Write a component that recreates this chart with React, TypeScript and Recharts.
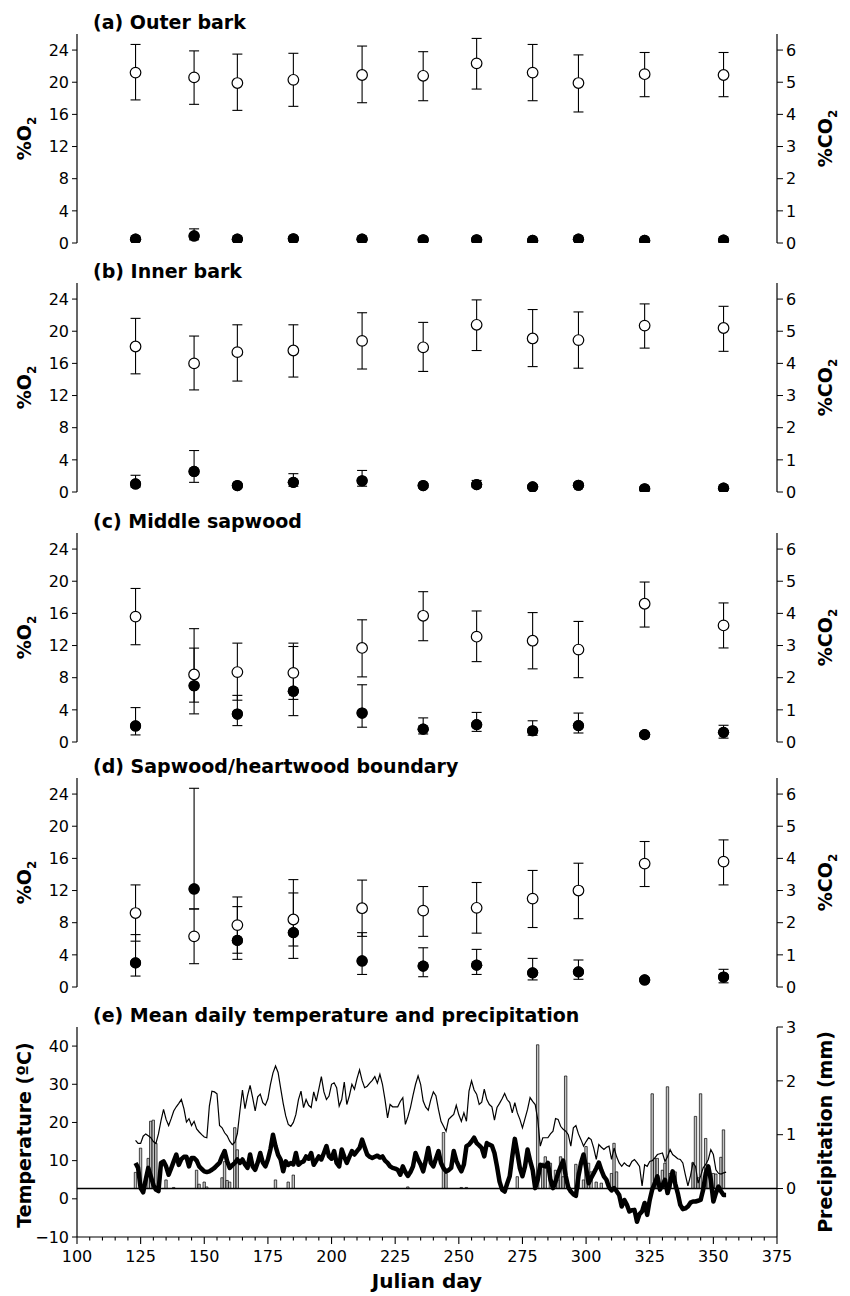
import React from "react";
import { ComposedChart, Scatter, ErrorBar, XAxis, YAxis, Line, Bar, ReferenceLine } from "recharts";

// sampling days (Julian day) for the gas panels
const sampleDays = [123, 146, 163, 185, 212, 236, 257, 279, 297, 323, 354];

// (a) outer bark
const outerO2 = [21.2, 20.6, 19.9, 20.3, 20.9, 20.8, 22.35, 21.2, 19.9, 21.0, 20.9];
const outerO2Err = [[3.4, 3.5], [3.35, 3.3], [3.4, 3.6], [3.3, 3.3], [3.45, 3.6], [3.1, 3.0], [3.2, 3.1], [3.5, 3.5], [3.6, 3.5], [2.8, 2.7], [2.7, 2.8]];
const outerCO2 = [0.12, 0.22, 0.12, 0.13, 0.12, 0.1, 0.1, 0.08, 0.12, 0.08, 0.09];
const outerCO2Err = [[0.04, 0.04], [0.12, 0.22], [0.04, 0.04], [0.04, 0.04], [0.04, 0.04], [0.03, 0.03], [0.03, 0.03], [0.03, 0.03], [0.04, 0.04], [0.03, 0.03], [0.03, 0.03]];

// (b) inner bark
const innerO2 = [18.1, 16.0, 17.4, 17.6, 18.8, 18.0, 20.8, 19.1, 18.9, 20.7, 20.4];
const innerO2Err = [[3.4, 3.5], [3.3, 3.4], [3.6, 3.4], [3.3, 3.2], [3.5, 3.5], [3.0, 3.1], [3.2, 3.1], [3.5, 3.6], [3.5, 3.5], [2.8, 2.7], [2.9, 2.7]];
const innerCO2 = [0.25, 0.64, 0.2, 0.3, 0.35, 0.2, 0.23, 0.16, 0.21, 0.1, 0.12];
const innerCO2Err = [[0.1, 0.27], [0.34, 0.65], [0.05, 0.05], [0.12, 0.27], [0.17, 0.32], [0.06, 0.06], [0.08, 0.13], [0.05, 0.05], [0.06, 0.06], [0.03, 0.03], [0.03, 0.03]];

// (c) middle sapwood
const middleO2 = [15.6, 8.4, 8.7, 8.6, 11.7, 15.7, 13.1, 12.6, 11.5, 17.2, 14.5];
const middleO2Err = [[3.5, 3.5], [4.9, 5.7], [3.5, 3.6], [3.3, 3.7], [3.6, 3.5], [3.1, 3.0], [3.1, 3.2], [3.5, 3.5], [3.5, 3.5], [2.9, 2.7], [2.8, 2.8]];
const middleCO2 = [0.5, 1.75, 0.87, 1.58, 0.9, 0.4, 0.54, 0.35, 0.51, 0.23, 0.3];
const middleCO2Err = [[0.28, 0.57], [0.51, 1.17], [0.36, 0.58], [0.76, 1.39], [0.44, 0.88], [0.15, 0.35], [0.21, 0.38], [0.14, 0.31], [0.23, 0.39], [0.05, 0.05], [0.18, 0.22]];

// (d) sapwood/heartwood boundary
const boundaryO2 = [9.2, 6.3, 7.7, 8.4, 9.8, 9.5, 9.85, 11.0, 12.0, 15.35, 15.6];
const boundaryO2Err = [[3.5, 3.5], [3.4, 3.4], [3.5, 3.5], [3.3, 3.3], [3.5, 3.5], [3.2, 3.0], [3.15, 3.15], [3.6, 3.5], [3.5, 3.4], [2.85, 2.75], [2.9, 2.7]];
const boundaryCO2 = [0.75, 3.05, 1.45, 1.69, 0.81, 0.65, 0.68, 0.44, 0.47, 0.22, 0.31];
const boundaryCO2Err = [[0.41, 0.88], [0.62, 3.13], [0.59, 1.05], [0.8, 1.65], [0.42, 0.88], [0.33, 0.57], [0.29, 0.49], [0.22, 0.45], [0.23, 0.37], [0.04, 0.04], [0.18, 0.24]];

// (e) daily weather, day 123 .. 355
const firstWeatherDay = 123;
const maxTemp = [
  15.3, 14.5, 14.5, 16.4, 17.0, 16.5, 16.0, 15.0, 14.5, 17.0,
  20.5, 23.4, 20.8, 19.2, 21.0, 23.0, 24.1, 25.0, 26.0, 23.6,
  20.1, 21.0, 19.2, 20.3, 18.3, 17.5, 16.8, 16.2, 16.0, 24.3,
  28.2, 28.0, 27.5, 19.2, 18.6, 17.3, 16.5, 15.1, 14.2, 14.8,
  17.1, 23.0, 28.5, 23.6, 27.0, 29.7, 26.5, 23.0, 26.7, 27.4,
  25.2, 24.5, 26.2, 30.0, 33.0, 34.8, 33.1, 29.0, 25.0, 21.7,
  19.5, 19.0, 20.0, 22.1, 26.0, 28.2, 23.9, 26.0, 24.5, 23.9,
  28.0, 25.6, 28.7, 32.0, 28.0, 26.0, 26.9, 30.0, 30.4, 29.1,
  24.3, 26.0, 30.6, 24.7, 27.0, 30.0, 28.7, 31.5, 33.8, 31.0,
  29.1, 29.5, 30.3, 31.0, 32.0, 30.3, 32.6, 30.0, 26.0, 21.2,
  24.7, 24.1, 24.1, 24.1, 25.5, 26.5, 19.5, 21.5, 23.9, 27.1,
  30.0, 32.2, 30.0, 25.6, 24.0, 23.2, 26.0, 28.0, 27.0, 23.4,
  20.3, 19.0, 17.7, 20.8, 21.5, 22.1, 24.5, 22.0, 20.3, 22.5,
  20.3, 28.2, 30.9, 28.5, 27.4, 24.7, 25.3, 28.7, 26.0, 24.7,
  24.1, 20.6, 23.9, 25.0, 26.2, 27.6, 26.0, 25.2, 22.5, 25.2,
  22.5, 20.8, 18.6, 21.0, 23.4, 26.5, 25.5, 24.7, 20.8, 13.8,
  16.0, 16.0, 16.0, 17.0, 17.7, 21.0, 20.8, 19.0, 18.2, 17.7,
  16.8, 13.8, 18.6, 19.2, 17.0, 15.5, 13.8, 15.0, 16.0, 15.5,
  13.3, 10.3, 14.2, 13.5, 12.9, 13.5, 13.8, 10.3, 13.3, 11.0,
  9.4, 8.5, 9.4, 8.8, 8.5, 9.8, 10.3, 9.5, 8.5, 3.4,
  8.9, 8.5, 9.8, 10.0, 10.7, 11.6, 11.8, 12.0, 9.8, 11.0,
  12.9, 11.6, 11.1, 10.5, 10.3, 9.4, 6.3, 3.4, 6.0, 9.4,
  8.5, 4.1, 6.0, 8.1, 9.0, 10.3, 12.9, 11.6, 7.6, 6.7,
  6.5, 6.8, 7.0,
];
const meanTemp = [
  9.4, 8.1, 2.8, 1.7, 5.0, 8.1, 5.9, 3.7, 2.4, 2.0,
  9.4, 9.8, 8.5, 6.3, 8.0, 9.8, 11.6, 8.9, 10.4, 11.0,
  11.0, 8.5, 10.7, 10.7, 10.0, 8.5, 7.8, 7.2, 7.0, 7.2,
  7.6, 8.1, 8.8, 9.4, 11.1, 12.5, 9.8, 8.1, 8.8, 9.4,
  10.3, 9.4, 10.3, 9.0, 8.1, 11.6, 8.5, 7.6, 9.5, 12.0,
  9.5, 8.5, 10.3, 13.0, 16.8, 13.8, 11.5, 10.3, 7.2, 9.8,
  8.9, 9.4, 9.0, 12.0, 8.9, 9.5, 9.8, 11.1, 10.5, 12.0,
  8.9, 10.0, 11.1, 10.3, 12.0, 13.8, 11.1, 10.5, 12.5, 9.4,
  8.5, 12.9, 11.0, 9.4, 11.0, 12.5, 11.6, 12.5, 13.3, 15.5,
  13.5, 11.6, 11.0, 10.7, 11.0, 11.3, 10.8, 11.1, 10.0, 9.4,
  8.5, 8.1, 7.9, 7.6, 6.3, 8.5, 7.0, 6.0, 7.0, 8.5,
  12.0, 10.3, 9.0, 7.2, 10.0, 13.3, 9.4, 8.5, 10.5, 12.5,
  9.4, 8.0, 7.2, 7.5, 8.1, 12.5, 10.0, 8.5, 7.2, 9.0,
  13.8, 14.2, 15.0, 16.0, 14.6, 14.0, 13.3, 11.1, 14.6, 14.2,
  13.9, 12.0, 8.5, 4.5, 2.4, 1.9, 4.0, 5.9, 11.1, 15.7,
  12.0, 8.0, 5.9, 8.5, 12.9, 10.0, 7.6, 2.8, 5.0, 8.9,
  8.7, 8.5, 9.4, 5.0, 2.8, 4.5, 6.7, 8.5, 10.0, 6.0,
  3.0, 1.9, 1.2, 0.8, 5.9, 9.4, 11.6, 8.1, 4.1, 5.5,
  6.7, 8.0, 9.5, 7.5, 5.9, 5.0, 3.0, 2.2, 2.8, 2.0,
  1.0, -2.0, -0.3, -1.5, -3.3, -3.0, -2.9, -6.0, -4.0, -3.3,
  -1.1, -4.2, -0.3, 2.5, 4.1, 5.9, 2.4, 3.5, 5.0, 1.5,
  4.1, 7.2, 4.0, 1.5, -1.6, -2.7, -2.5, -2.0, -1.0, -0.7,
  -0.7, -0.5, -0.3, 2.4, 6.7, 8.5, 5.0, -0.7, 1.5, 3.2,
  2.0, 1.0, 1.0,
];
// [day, mm] for days with rain
const rainfall = [
  [123, 0.3], [125, 0.75], [128, 0.56], [129, 1.25], [130, 1.27], [131, 0.84], [135, 0.16], [138, 0.02],
  [147, 0.34], [148, 0.08], [150, 0.12], [151, 0.03], [157, 0.2], [158, 0.5], [159, 0.15], [160, 0.12],
  [162, 1.13], [163, 0.72], [178, 0.16], [183, 0.12], [185, 0.25], [230, 0.03], [244, 1.04], [245, 0.28],
  [251, 0.02], [253, 0.02], [273, 0.22], [281, 2.67], [283, 0.47], [284, 0.59], [286, 0.47], [288, 0.34],
  [289, 0.16], [290, 0.59], [291, 0.22], [292, 2.09], [296, 0.45], [297, 0.3], [299, 0.16], [300, 0.78],
  [301, 0.47], [302, 0.31], [304, 0.12], [306, 0.1], [310, 0.28], [311, 0.84], [312, 0.31], [326, 1.76],
  [327, 0.56], [328, 0.56], [330, 0.34], [331, 0.47], [332, 1.89], [333, 0.28], [335, 0.31], [342, 0.48],
  [343, 1.34], [344, 0.2], [345, 1.76], [347, 0.93], [348, 0.25], [350, 0.28], [351, 0.27], [353, 0.58],
  [354, 1.09],
];

const dayTicks = [100, 125, 150, 175, 200, 225, 250, 275, 300, 325, 350, 375];
const dayMinorTicks = Array.from({ length: 56 }, (_, i) => 100 + i * 5);
const o2Ticks = [0, 4, 8, 12, 16, 20, 24];
const co2Ticks = [0, 1, 2, 3, 4, 5, 6];
const tempTicks = [-10, 0, 10, 20, 30, 40];
const rainTicks = [0, 1, 2, 3];

const FONT = "'DejaVu Sans', sans-serif";
const W = 850;
const PLOT_H = 209;
const axisLine = { stroke: "#000", strokeWidth: 1.2 };
const tickStyle = { fill: "#000", fontSize: 16, fontFamily: FONT };

const panels = [
  { top: 34, title: "(a) Outer bark", o2: outerO2, o2Err: outerO2Err, co2: outerCO2, co2Err: outerCO2Err },
  { top: 283, title: "(b) Inner bark", o2: innerO2, o2Err: innerO2Err, co2: innerCO2, co2Err: innerCO2Err },
  { top: 533, title: "(c) Middle sapwood", o2: middleO2, o2Err: middleO2Err, co2: middleCO2, co2Err: middleCO2Err },
  { top: 778, title: "(d) Sapwood/heartwood boundary", o2: boundaryO2, o2Err: boundaryO2Err, co2: boundaryCO2, co2Err: boundaryCO2Err },
];
const WEATHER_TOP = 1027;
const WEATHER_H = 210;

const OpenDot = (p: any) => <circle cx={p.cx} cy={p.cy} r={5.3} fill="#fff" stroke="#000" strokeWidth={1.2} />;
const FilledDot = (p: any) => <circle cx={p.cx} cy={p.cy} r={5.6} fill="#000" />;

// ticks pointing into the plot along the bottom of panels a-d
const innerTick = (p: any) => (
  <line x1={p.x} x2={p.x} y1={p.y} y2={p.y - 7} stroke="#000" strokeWidth={1.1} />
);

const weatherTick = (p: any) => {
  const major = p.payload.value % 25 === 0;
  return (
    <g>
      <line x1={p.x} x2={p.x} y1={p.y} y2={p.y + (major ? 7 : 3.5)} stroke="#000" strokeWidth={1.1} />
      {major && (
        <text x={p.x} y={p.y + 25} textAnchor="middle" fontSize={16} fontFamily={FONT} fill="#000">
          {p.payload.value}
        </text>
      )}
    </g>
  );
};

function GasPanel({ top, o2, o2Err, co2, co2Err }: any) {
  const rows = sampleDays.map((day, i) => ({ day, o2: o2[i], o2Err: o2Err[i], co2: co2[i], co2Err: co2Err[i] }));
  return (
    <div style={{ position: "absolute", left: 0, top: top - 10 }}>
      <ComposedChart width={W} height={PLOT_H + 20} margin={{ top: 10, right: 0, bottom: 10, left: 0 }}>
        <XAxis dataKey="day" type="number" domain={[100, 375]} ticks={dayTicks} interval={0} height={0}
          tickSize={0} tickMargin={0} tickLine={false} tick={innerTick} axisLine={axisLine} allowDataOverflow />
        <XAxis xAxisId="top" orientation="top" dataKey="day" type="number" domain={[100, 375]} height={0}
          tick={false} tickLine={false} axisLine={axisLine} />
        <YAxis yAxisId="o2" type="number" domain={[0, 26]} ticks={o2Ticks} interval={0} width={77}
          tickSize={5} tickMargin={3} tick={tickStyle} tickLine={{ stroke: "#000" }} axisLine={axisLine} allowDataOverflow />
        <YAxis yAxisId="co2" orientation="right" type="number" domain={[0, 6.5]} ticks={co2Ticks} interval={0} width={73}
          tickSize={6} tickMargin={3} tick={tickStyle} tickLine={{ stroke: "#000" }} axisLine={axisLine} allowDataOverflow />
        <Scatter yAxisId="co2" data={rows} dataKey="co2" shape={FilledDot} isAnimationActive={false}>
          <ErrorBar dataKey="co2Err" direction="y" width={5} stroke="#000" strokeWidth={1.1} />
        </Scatter>
        <Scatter yAxisId="o2" data={rows} dataKey="o2" shape={OpenDot} isAnimationActive={false}>
          <ErrorBar dataKey="o2Err" direction="y" width={5} stroke="#000" strokeWidth={1.1} />
        </Scatter>
        <Scatter yAxisId="co2" data={rows} dataKey="co2" shape={FilledDot} isAnimationActive={false} />
      </ComposedChart>
    </div>
  );
}

function WeatherPanel() {
  const rainMap = new Map(rainfall.map(([d, mm]) => [d, mm]));
  const rows = maxTemp.map((t, i) => ({
    day: firstWeatherDay + i,
    tmax: t,
    tmean: meanTemp[i],
    rain: rainMap.has(firstWeatherDay + i) ? rainMap.get(firstWeatherDay + i) : null,
  }));
  return (
    <div style={{ position: "absolute", left: 0, top: WEATHER_TOP - 10 }}>
      <ComposedChart width={W} height={WEATHER_H + 40} data={rows} margin={{ top: 10, right: 0, bottom: 0, left: 0 }}>
        <XAxis dataKey="day" type="number" domain={[100, 375]} ticks={dayMinorTicks} interval={0} height={30}
          tickSize={0} tickMargin={0} tickLine={false} tick={weatherTick} axisLine={axisLine} allowDataOverflow />
        <XAxis xAxisId="top" orientation="top" dataKey="day" type="number" domain={[100, 375]} height={0}
          tick={false} tickLine={false} axisLine={axisLine} />
        <YAxis yAxisId="t" type="number" domain={[-10, 45]} ticks={tempTicks} interval={0} width={77}
          tickSize={5} tickMargin={3} tick={tickStyle} tickLine={{ stroke: "#000" }} axisLine={axisLine}
          tickFormatter={(v: number) => String(v).replace("-", "\u2212")} allowDataOverflow />
        <YAxis yAxisId="p" orientation="right" type="number" domain={[-0.9, 3]} ticks={rainTicks} interval={0} width={73}
          tickSize={6} tickMargin={3} tick={tickStyle} tickLine={{ stroke: "#000" }} axisLine={axisLine} allowDataOverflow />
        <Line yAxisId="t" dataKey="tmax" type="linear" stroke="#000" strokeWidth={1.2} dot={false} isAnimationActive={false} />
        <Line yAxisId="t" dataKey="tmean" type="linear" stroke="#000" strokeWidth={4.5} strokeLinejoin="round" dot={false} isAnimationActive={false} />
        <Bar yAxisId="p" dataKey="rain" barSize={2.4} fill="#c4c4c4" stroke="#000" strokeWidth={0.7} isAnimationActive={false} />
        <ReferenceLine yAxisId="p" y={0} stroke="#000" strokeWidth={1.5} />
      </ComposedChart>
    </div>
  );
}

function SideLabel({ x, y, children }: any) {
  return (
    <text transform={`translate(${x},${y}) rotate(-90)`} textAnchor="middle" fontSize={19} fontWeight="bold" fontFamily={FONT} fill="#000">
      {children}
    </text>
  );
}

export default function App() {
  return (
    <div style={{ position: "absolute", left: 0, top: 0, width: W, height: 1296, background: "#fff", overflow: "hidden" }}>
      {panels.map((p) => (
        <GasPanel key={p.title} {...p} />
      ))}
      <WeatherPanel />
      <svg width={W} height={1296} style={{ position: "absolute", left: 0, top: 0, pointerEvents: "none" }}>
        {panels.map((p) => (
          <g key={p.title}>
            <text x={93} y={p.top - 5} fontSize={19} fontWeight="bold" fontFamily={FONT} fill="#000">{p.title}</text>
            <SideLabel x={31} y={p.top + PLOT_H / 2}>
              %O<tspan fontSize={12} dy={5}>2</tspan>
            </SideLabel>
            <SideLabel x={832} y={p.top + PLOT_H / 2}>
              %CO<tspan fontSize={12} dy={5}>2</tspan>
            </SideLabel>
          </g>
        ))}
        <text x={93} y={WEATHER_TOP - 5} fontSize={19} fontWeight="bold" fontFamily={FONT} fill="#000">
          (e) Mean daily temperature and precipitation
        </text>
        <SideLabel x={31} y={WEATHER_TOP + 108}>Temperature (ºC)</SideLabel>
        <SideLabel x={832} y={WEATHER_TOP + 105}>Precipitation (mm)</SideLabel>
        <text x={427} y={1288} textAnchor="middle" fontSize={20} fontWeight="bold" fontFamily={FONT} fill="#000">Julian day</text>
      </svg>
    </div>
  );
}
